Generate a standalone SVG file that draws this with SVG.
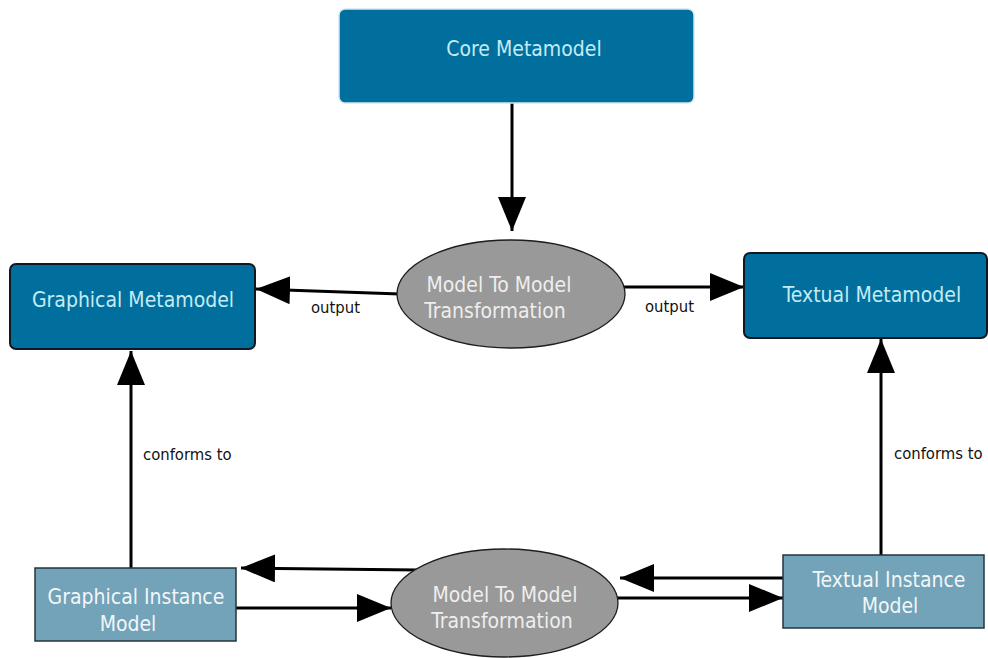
<svg xmlns="http://www.w3.org/2000/svg" width="988" height="658" viewBox="0 0 988 658">
  <style>
    .meta { fill: #016f9e; stroke: #101820; stroke-width: 2; }
    .core { fill: #016f9e; stroke: #d4e8f0; stroke-width: 1.5; }
    .inst { fill: #72a3b8; stroke: #24343e; stroke-width: 1.5; }
    .xform { fill: #999999; stroke: #1e1e1e; stroke-width: 1.3; }
    .t { font-family: "DejaVu Sans Condensed", "DejaVu Sans", sans-serif; font-size: 21px; text-anchor: middle; }
    .tm { fill: #c4ebf4; }
    .ti { fill: #f2f6f8; }
    .te { fill: #eeeeee; }
    .lbl { font-family: "DejaVu Sans Condensed", "DejaVu Sans", sans-serif; font-size: 16.5px; fill: #111111; }
    .edge { stroke: #000000; stroke-width: 3; fill: none; }
  </style>
  <defs>
    <marker id="head" markerUnits="userSpaceOnUse" markerWidth="36" markerHeight="30" refX="34" refY="14" orient="auto">
      <path d="M0,0 L34,14 L0,28 Z" fill="#000000"/>
    </marker>
  </defs>

  <rect width="988" height="658" fill="#ffffff"/>

  <!-- connectors -->
  <g id="connectors">
    <line class="edge" x1="512" y1="103" x2="512" y2="231" marker-end="url(#head)"/>
    <line class="edge" x1="400" y1="294" x2="256" y2="289" marker-end="url(#head)"/>
    <line class="edge" x1="622" y1="287" x2="744" y2="287" marker-end="url(#head)"/>
    <line class="edge" x1="131" y1="568" x2="131" y2="351" marker-end="url(#head)"/>
    <line class="edge" x1="881" y1="555" x2="881" y2="339" marker-end="url(#head)"/>
    <line class="edge" x1="418" y1="570" x2="241" y2="568" marker-end="url(#head)"/>
    <line class="edge" x1="236" y1="608" x2="391" y2="608" marker-end="url(#head)"/>
    <line class="edge" x1="783" y1="578" x2="620" y2="578" marker-end="url(#head)"/>
    <line class="edge" x1="615" y1="598" x2="783" y2="598" marker-end="url(#head)"/>
    <text class="lbl" x="311" y="313">output</text>
    <text class="lbl" x="645" y="312">output</text>
    <text class="lbl" x="143" y="460">conforms to</text>
    <text class="lbl" x="894" y="459">conforms to</text>
  </g>

  <!-- nodes -->
  <g id="core-metamodel">
    <rect class="core" x="339" y="9" width="355" height="94" rx="6"/>
    <text class="t tm" x="524" y="56">Core Metamodel</text>
  </g>
  <g id="graphical-metamodel">
    <rect class="meta" x="10" y="264" width="245" height="85" rx="6"/>
    <text class="t tm" x="133" y="307">Graphical Metamodel</text>
  </g>
  <g id="textual-metamodel">
    <rect class="meta" x="744" y="253" width="243" height="85" rx="6"/>
    <text class="t tm" x="872" y="302">Textual Metamodel</text>
  </g>
  <g id="transformation-top">
    <ellipse class="xform" cx="511" cy="294" rx="114" ry="54"/>
    <text class="t te" x="499" y="292">Model To Model</text>
    <text class="t te" x="495" y="318">Transformation</text>
  </g>
  <g id="graphical-instance-model">
    <rect class="inst" x="35" y="568" width="201" height="73"/>
    <text class="t ti" x="136" y="604">Graphical Instance</text>
    <text class="t ti" x="128" y="631">Model</text>
  </g>
  <g id="transformation-bottom">
    <ellipse class="xform" cx="504.5" cy="603" rx="113.5" ry="54"/>
    <text class="t te" x="505" y="602">Model To Model</text>
    <text class="t te" x="502" y="628">Transformation</text>
  </g>
  <g id="textual-instance-model">
    <rect class="inst" x="783" y="555" width="201" height="73"/>
    <text class="t ti" x="889" y="587">Textual Instance</text>
    <text class="t ti" x="890" y="613">Model</text>
  </g>
</svg>
